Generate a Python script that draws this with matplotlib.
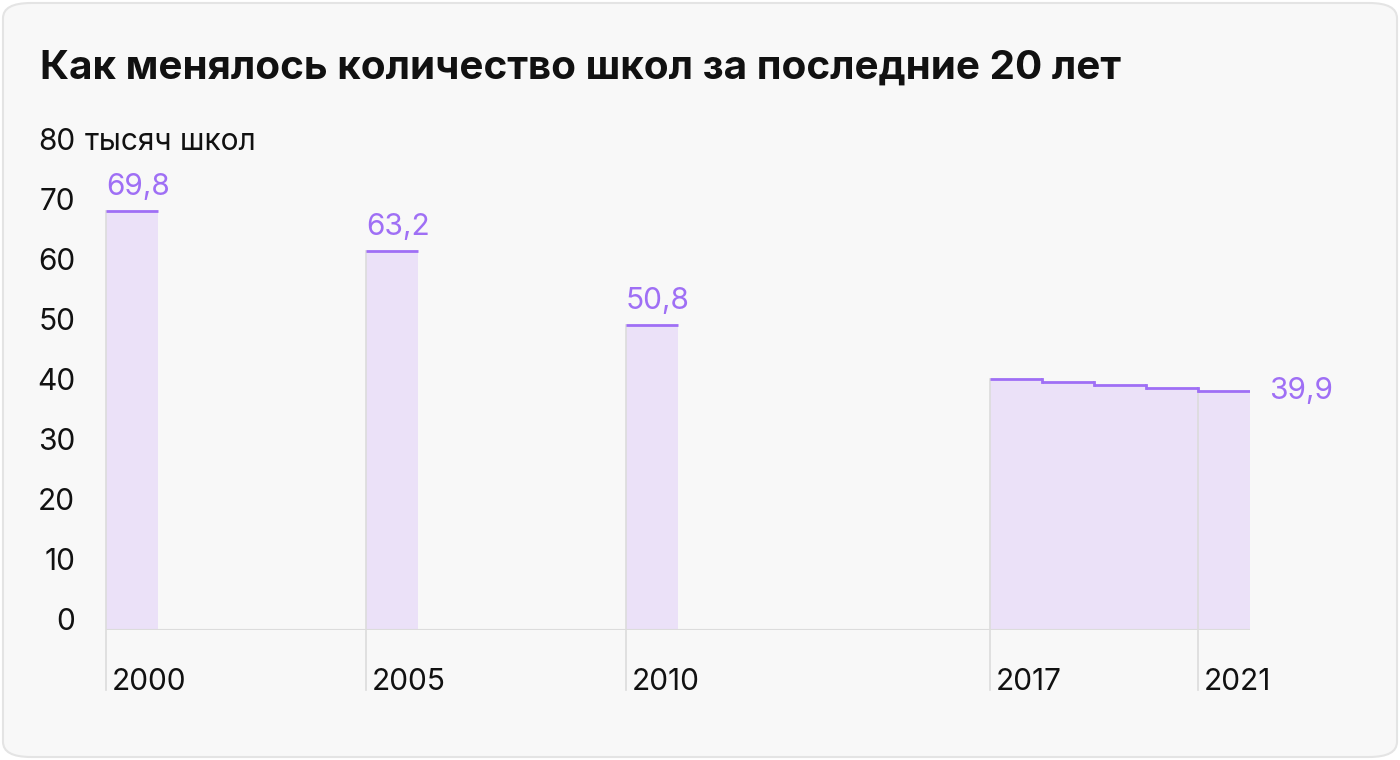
import matplotlib.pyplot as plt
from matplotlib.patches import FancyBboxPatch
from matplotlib.transforms import offset_copy

plt.rcParams['font.family'] = ['Inter', 'DejaVu Sans']

# data
years = [2000, 2005, 2010, 2017, 2018, 2019, 2020, 2021]
schools = [69.8, 63.2, 50.8, 41.9, 41.4, 40.9, 40.4, 39.9]
labeled_years = [2000, 2005, 2010, 2017, 2021]
value_labels = {2000: '69,8', 2005: '63,2', 2010: '50,8', 2021: '39,9'}
y_ticks = [0, 10, 20, 30, 40, 50, 60, 70, 80]

title = 'Как менялось количество школ за последние 20 лет'
unit = 'тысяч школ'

W, H = 1400, 760
fig = plt.figure(figsize=(W / 100, H / 100), dpi=100)
fig.patch.set_facecolor('white')

# rounded card background
card = FancyBboxPatch((3 / W, 3 / H), 1 - 6 / W, 1 - 6 / H,
                      boxstyle='round,pad=0,rounding_size=0.02',
                      transform=fig.transFigure, facecolor='#f8f8f8',
                      edgecolor='#e4e4e4', linewidth=1.5, zorder=-5)
fig.patches.append(card)

ax = fig.add_axes([106 / W, 130 / H, 1144 / W, 480 / H])
ax.set_zorder(2)
ax.set_facecolor('none')
ax.set_xlim(2000, 2022)
ax.set_ylim(0, 80)
for s in ax.spines.values():
    s.set_visible(False)
ax.set_xticks([])
ax.set_yticks([])

bar_fill = '#ebe1f8'
top_color = '#9f6ff5'
grid_color = '#dcdcdc'
fs = 21.5

ax.bar(years, schools, width=1, align='edge', color=bar_fill, zorder=1)
for yr, v in zip(years, schools):
    ax.plot([yr, yr + 1], [v, v], color=top_color, lw=2, zorder=3,
            solid_capstyle='butt')
# small vertical steps between adjacent bars
for i in range(1, len(years)):
    if years[i] == years[i - 1] + 1:
        ax.plot([years[i], years[i]], [schools[i - 1], schools[i]],
                color=top_color, lw=2, zorder=3)

# baseline
ax.axhline(0, color=grid_color, lw=1.5, zorder=2)

# vertical tick lines running from bar top down below the axis
val = dict(zip(years, schools))
for yr in labeled_years:
    ax.plot([yr, yr], [val[yr], -60 / 6], color=grid_color, lw=1.2,
            zorder=2, clip_on=False)
    ax.text(yr, -60 / 6, str(yr),
            transform=offset_copy(ax.transData, fig=fig, x=6 * 0.72, y=0, units='points'),
            ha='left', va='baseline', fontsize=fs, color='#111111')

# y tick labels
ytr = ax.get_yaxis_transform()
for t in y_ticks:
    ax.text(-31 / 1144, t, str(t), transform=ytr, ha='right', va='baseline',
            fontsize=fs, color='#111111')
ax.text(-21 / 1144, 80, unit, transform=ytr, ha='left', va='baseline',
        fontsize=fs, color='#111111')

# value labels
for yr, lab in value_labels.items():
    if yr == years[-1]:
        ax.annotate(lab, xy=(yr + 1, val[yr]), xytext=(14, 0),
                    textcoords='offset points', ha='left', va='center',
                    fontsize=fs, color=top_color)
    else:
        ax.annotate(lab, xy=(yr, val[yr]), xytext=(0, 7),
                    textcoords='offset points', ha='left', va='bottom',
                    fontsize=fs, color=top_color)

fig.text(40 / W, 1 - 68 / H, title, ha='left', va='center',
         fontsize=29.1, fontweight='bold', color='#111111')

fig.savefig('out.png', dpi=100, facecolor=fig.get_facecolor())
